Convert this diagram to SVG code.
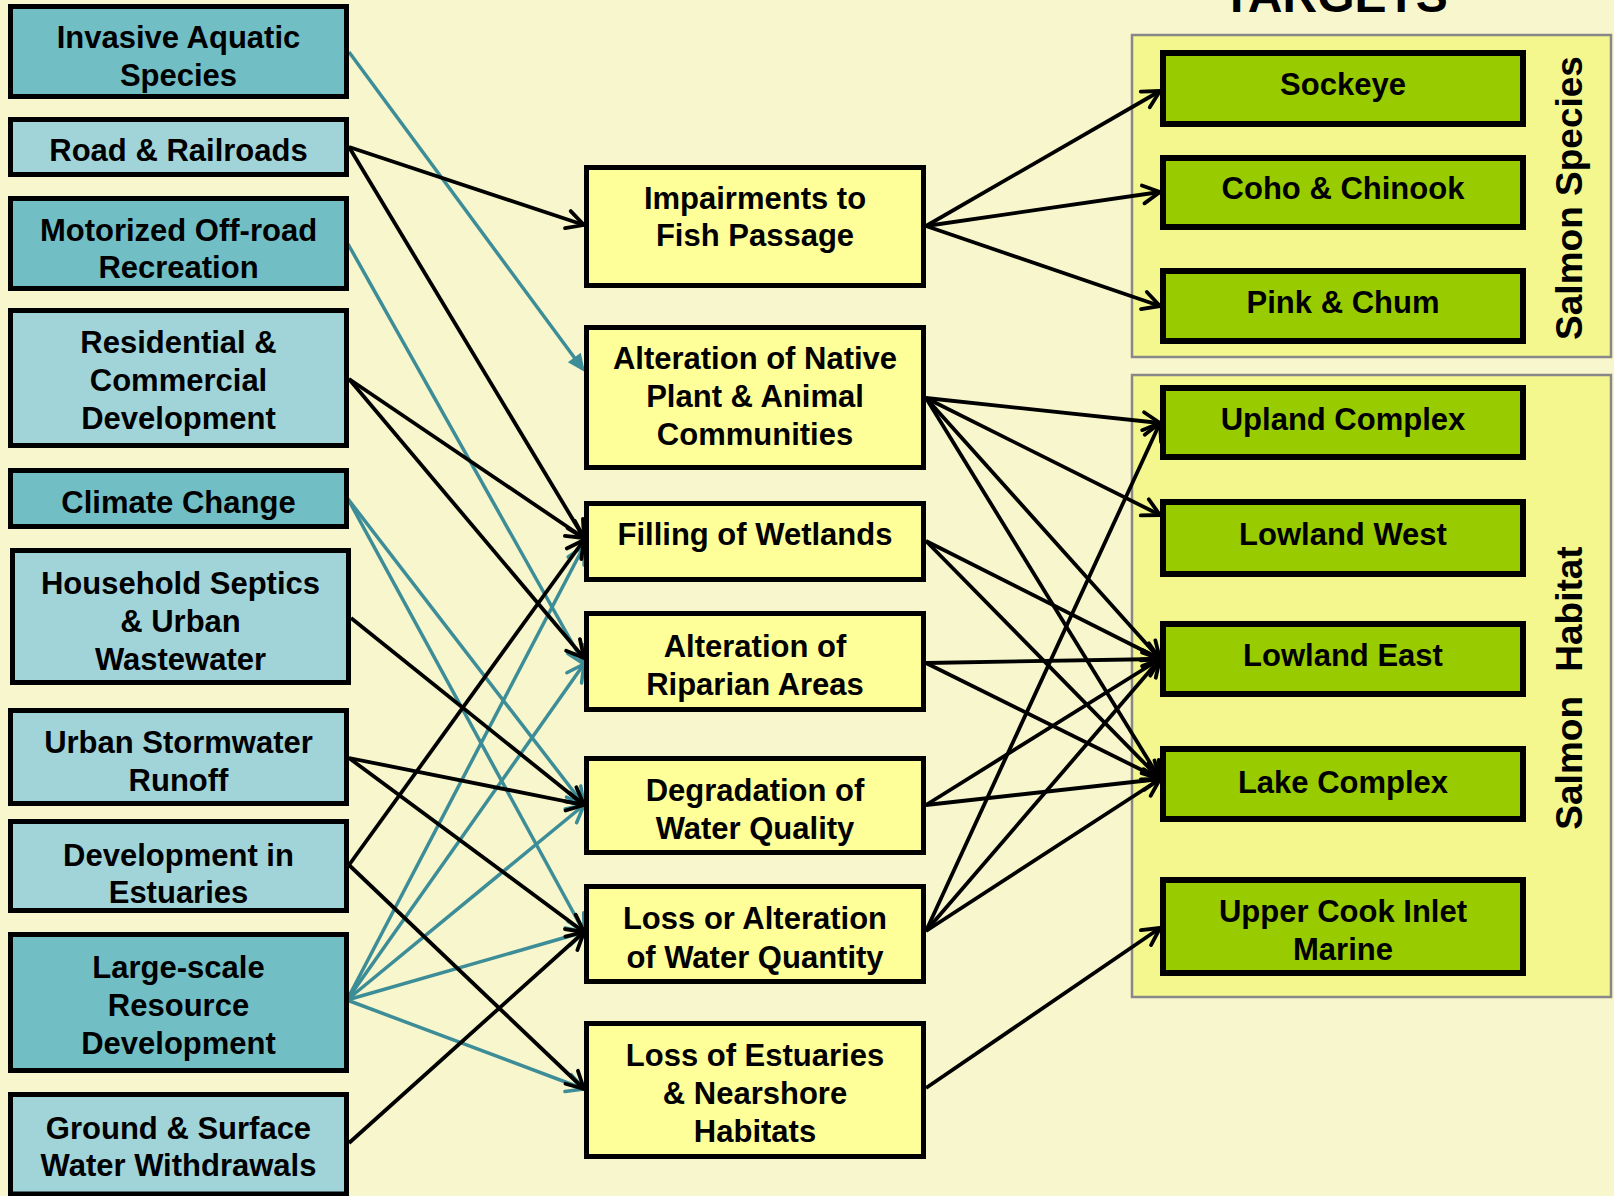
<svg xmlns="http://www.w3.org/2000/svg" width="1614" height="1196" viewBox="0 0 1614 1196">
<style>
.lbl{font-family:"Liberation Sans",Arial,sans-serif;font-weight:bold;font-size:31px;text-anchor:middle;fill:#000}
.vt{font-family:"Liberation Sans",Arial,sans-serif;font-weight:bold;font-size:37px;text-anchor:middle;fill:#000}
.tt{font-family:"Liberation Sans",Arial,sans-serif;font-weight:bold;font-size:48px;text-anchor:middle;fill:#000}
.dk{fill:#71bec5;stroke:#000;stroke-width:5}
.lt{fill:#a1d4d9;stroke:#000;stroke-width:5}
.ye{fill:#ffff99;stroke:#000;stroke-width:5}
.gr{fill:#99cc00;stroke:#000;stroke-width:6}
.grp{fill:#f3f78e;stroke:#888;stroke-width:2.5}
.b{stroke:#000;stroke-width:3.8;fill:none;marker-end:url(#ab)}
.t{stroke:#3c8d97;stroke-width:3.5;fill:none;marker-end:url(#at)}
.tf{stroke:#3c8d97;stroke-width:3.5;fill:none;marker-end:url(#af)}
</style>
<defs>
<marker id="ab" viewBox="-22 -13 26 26" refX="0" refY="0" markerWidth="26" markerHeight="26" markerUnits="userSpaceOnUse" orient="auto">
<path d="M-17,-9 L0,0 L-17,9" fill="none" stroke="#000" stroke-width="3.8" stroke-linejoin="round" stroke-linecap="round"/>
</marker>
<marker id="at" viewBox="-22 -13 26 26" refX="0" refY="0" markerWidth="26" markerHeight="26" markerUnits="userSpaceOnUse" orient="auto">
<path d="M-17,-9 L0,0 L-17,9" fill="none" stroke="#3c8d97" stroke-width="3.5" stroke-linejoin="round" stroke-linecap="round"/>
</marker>
<marker id="af" viewBox="-22 -12 26 24" refX="-4" refY="0" markerWidth="26" markerHeight="24" markerUnits="userSpaceOnUse" orient="auto">
<path d="M-18,-8 L0,0 L-18,8 Z" fill="#3c8d97"/>
</marker>
</defs>
<rect x="0" y="0" width="1614" height="1196" fill="#f8f6cc"/>
<text class="tt" x="1335" y="12">TARGETS</text>

<g id="grp-species"><rect class="grp" x="1132" y="35" width="479" height="322"/>
<text class="vt" transform="translate(1582,198) rotate(-90)">Salmon Species</text></g>
<g id="grp-habitat"><rect class="grp" x="1132" y="375" width="479" height="622"/>
<text class="vt" transform="translate(1582,688) rotate(-90)" word-spacing="14">Salmon Habitat</text></g>

<g id="connectors">
<line class="tf" x1="349" y1="52" x2="582.6" y2="368.8"/>
<line class="t" x1="348" y1="244" x2="584" y2="664"/>
<line class="t" x1="348" y1="499" x2="584" y2="805"/>
<line class="t" x1="348" y1="499" x2="584" y2="932"/>
<line class="t" x1="347" y1="1000" x2="584" y2="546"/>
<line class="t" x1="347" y1="1000" x2="584" y2="664"/>
<line class="t" x1="347" y1="1000" x2="584" y2="805"/>
<line class="t" x1="347" y1="1000" x2="584" y2="932"/>
<line class="t" x1="347" y1="1000" x2="584" y2="1089"/>
<line class="b" x1="349" y1="147" x2="584" y2="225"/>
<line class="b" x1="349" y1="147" x2="584" y2="538"/>
<line class="b" x1="349" y1="379" x2="584" y2="538"/>
<line class="b" x1="349" y1="379" x2="584" y2="658"/>
<line class="b" x1="351" y1="618" x2="584" y2="805"/>
<line class="b" x1="349" y1="758" x2="584" y2="805"/>
<line class="b" x1="349" y1="758" x2="584" y2="932"/>
<line class="b" x1="349" y1="865" x2="584" y2="540"/>
<line class="b" x1="349" y1="865" x2="584" y2="1089"/>
<line class="b" x1="349" y1="1143" x2="584" y2="932"/>
<line class="b" x1="926" y1="226" x2="1160" y2="91"/>
<line class="b" x1="926" y1="226" x2="1160" y2="192"/>
<line class="b" x1="926" y1="226" x2="1160" y2="306"/>
<line class="b" x1="926" y1="398" x2="1160" y2="423"/>
<line class="b" x1="926" y1="398" x2="1160" y2="515"/>
<line class="b" x1="926" y1="398" x2="1160" y2="659"/>
<line class="b" x1="926" y1="398" x2="1160" y2="779"/>
<line class="b" x1="926" y1="541" x2="1160" y2="659"/>
<line class="b" x1="926" y1="541" x2="1160" y2="779"/>
<line class="b" x1="926" y1="663" x2="1160" y2="659"/>
<line class="b" x1="926" y1="663" x2="1160" y2="779"/>
<line class="b" x1="926" y1="805" x2="1160" y2="659"/>
<line class="b" x1="926" y1="805" x2="1160" y2="779"/>
<line class="b" x1="926" y1="931" x2="1160" y2="423"/>
<line class="b" x1="926" y1="931" x2="1160" y2="659"/>
<line class="b" x1="926" y1="931" x2="1160" y2="779"/>
<line class="b" x1="926" y1="1088" x2="1160" y2="928"/>
</g>

<g id="invasive"><rect class="dk" x="10.5" y="6.5" width="336" height="90"/>
<text class="lbl"><tspan x="178.5" y="48">Invasive Aquatic</tspan><tspan x="178.5" y="86">Species</tspan></text></g>
<g id="road"><rect class="lt" x="10.5" y="119.5" width="336" height="55"/>
<text class="lbl" x="178.5" y="161">Road &amp; Railroads</text></g>
<g id="motorized"><rect class="dk" x="10.5" y="198.5" width="336" height="90"/>
<text class="lbl"><tspan x="178.5" y="241">Motorized Off-road</tspan><tspan x="178.5" y="278">Recreation</tspan></text></g>
<g id="residential"><rect class="lt" x="10.5" y="310.5" width="336" height="135"/>
<text class="lbl"><tspan x="178.5" y="353">Residential &amp;</tspan><tspan x="178.5" y="391">Commercial</tspan><tspan x="178.5" y="429">Development</tspan></text></g>
<g id="climate"><rect class="dk" x="10.5" y="470.5" width="336" height="56"/>
<text class="lbl" x="178.5" y="513">Climate Change</text></g>
<g id="household"><rect class="lt" x="12.5" y="550.5" width="336" height="132"/>
<text class="lbl"><tspan x="180.5" y="594">Household Septics</tspan><tspan x="180.5" y="632">&amp; Urban</tspan><tspan x="180.5" y="670">Wastewater</tspan></text></g>
<g id="stormwater"><rect class="lt" x="10.5" y="710.5" width="336" height="93"/>
<text class="lbl"><tspan x="178.5" y="753">Urban Stormwater</tspan><tspan x="178.5" y="791">Runoff</tspan></text></g>
<g id="dev-estuaries"><rect class="lt" x="10.5" y="821.5" width="336" height="89"/>
<text class="lbl"><tspan x="178.5" y="866">Development in</tspan><tspan x="178.5" y="903">Estuaries</tspan></text></g>
<g id="large-scale"><rect class="dk" x="10.5" y="934.5" width="336" height="136"/>
<text class="lbl"><tspan x="178.5" y="978">Large-scale</tspan><tspan x="178.5" y="1016">Resource</tspan><tspan x="178.5" y="1054">Development</tspan></text></g>
<g id="withdrawals"><rect class="lt" x="10.5" y="1094.5" width="336" height="99.5"/>
<text class="lbl"><tspan x="178.5" y="1139">Ground &amp; Surface</tspan><tspan x="178.5" y="1176">Water Withdrawals</tspan></text></g>

<g id="fish-passage"><rect class="ye" x="586.5" y="167.5" width="337" height="118"/>
<text class="lbl"><tspan x="755" y="209">Impairments to</tspan><tspan x="755" y="246">Fish Passage</tspan></text></g>
<g id="native-communities"><rect class="ye" x="586.5" y="327.5" width="337" height="140"/>
<text class="lbl"><tspan x="755" y="369">Alteration of Native</tspan><tspan x="755" y="407">Plant &amp; Animal</tspan><tspan x="755" y="445">Communities</tspan></text></g>
<g id="wetlands"><rect class="ye" x="586.5" y="503.5" width="337" height="76"/>
<text class="lbl" x="755" y="545">Filling of Wetlands</text></g>
<g id="riparian"><rect class="ye" x="586.5" y="613.5" width="337" height="96"/>
<text class="lbl"><tspan x="755" y="657">Alteration of</tspan><tspan x="755" y="695">Riparian Areas</tspan></text></g>
<g id="water-quality"><rect class="ye" x="586.5" y="758.5" width="337" height="94"/>
<text class="lbl"><tspan x="755" y="801">Degradation of</tspan><tspan x="755" y="839">Water Quality</tspan></text></g>
<g id="water-quantity"><rect class="ye" x="586.5" y="886.5" width="337" height="95"/>
<text class="lbl"><tspan x="755" y="929">Loss or Alteration</tspan><tspan x="755" y="968">of Water Quantity</tspan></text></g>
<g id="estuaries-loss"><rect class="ye" x="586.5" y="1023.5" width="337" height="133"/>
<text class="lbl"><tspan x="755" y="1066">Loss of Estuaries</tspan><tspan x="755" y="1104">&amp; Nearshore</tspan><tspan x="755" y="1142">Habitats</tspan></text></g>

<g id="sockeye"><rect class="gr" x="1163" y="53" width="360" height="71"/>
<text class="lbl" x="1343" y="95">Sockeye</text></g>
<g id="coho"><rect class="gr" x="1163" y="158" width="360" height="69"/>
<text class="lbl" x="1343" y="199">Coho &amp; Chinook</text></g>
<g id="pink"><rect class="gr" x="1163" y="271" width="360" height="70"/>
<text class="lbl" x="1343" y="313">Pink &amp; Chum</text></g>
<g id="upland"><rect class="gr" x="1163" y="388" width="360" height="69"/>
<text class="lbl" x="1343" y="430">Upland Complex</text></g>
<g id="lowland-west"><rect class="gr" x="1163" y="502" width="360" height="72"/>
<text class="lbl" x="1343" y="545">Lowland West</text></g>
<g id="lowland-east"><rect class="gr" x="1163" y="624" width="360" height="70"/>
<text class="lbl" x="1343" y="666">Lowland East</text></g>
<g id="lake"><rect class="gr" x="1163" y="749" width="360" height="70"/>
<text class="lbl" x="1343" y="793">Lake Complex</text></g>
<g id="cook-inlet"><rect class="gr" x="1163" y="880" width="360" height="93"/>
<text class="lbl"><tspan x="1343" y="922">Upper Cook Inlet</tspan><tspan x="1343" y="960">Marine</tspan></text></g>
</svg>
